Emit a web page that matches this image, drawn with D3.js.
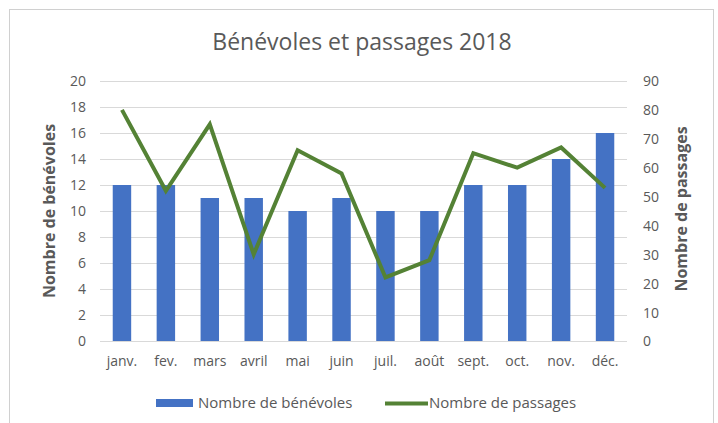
<!DOCTYPE html>
<html>
<head>
<meta charset="utf-8">
<script src="https://cdn.jsdelivr.net/npm/d3@7"></script>
<style>
  body { margin: 0; background: #fff; }
  text { font-family: "Segoe UI", "Open Sans", sans-serif; fill: #595959; }
</style>
</head>
<body>
<div class="chart"></div>
<script>
const months = ["janv.", "fev.", "mars", "avril", "mai", "juin", "juil.", "août", "sept.", "oct.", "nov.", "déc."];
const benevoles = [12, 12, 11, 11, 10, 11, 10, 10, 12, 12, 14, 16];
const passages = [80, 52, 75, 30, 66, 58, 22, 28, 65, 60, 67, 53];
const leftTicks = [0, 2, 4, 6, 8, 10, 12, 14, 16, 18, 20];
const rightTicks = [0, 10, 20, 30, 40, 50, 60, 70, 80, 90];

const width = 718;
const height = 423;
const margin = { top: 81, right: 91, bottom: 82, left: 100 };

const svg = d3.select(".chart")
  .append("svg")
  .attr("width", width)
  .attr("height", height);

// chart frame
svg.append("rect")
  .attr("x", 9.5)
  .attr("y", 9.5)
  .attr("width", 704)
  .attr("height", 430)
  .attr("fill", "#fff")
  .attr("stroke", "#d0d0d0");

// title
svg.append("text")
  .attr("x", 362)
  .attr("y", 50)
  .attr("text-anchor", "middle")
  .style("font-size", "23px")
  .text("Bénévoles et passages 2018");

const xScale = d3.scaleBand()
  .domain(months)
  .range([margin.left, width - margin.right])
  .paddingInner(0.58)
  .paddingOuter(0.29);

const yLeft = d3.scaleLinear()
  .domain([0, 20])
  .range([height - margin.bottom, margin.top]);

const yRight = d3.scaleLinear()
  .domain([0, 90])
  .range([height - margin.bottom, margin.top]);

// gridlines
svg.append("g")
  .selectAll("line")
  .data(leftTicks)
  .join("line")
  .attr("x1", margin.left)
  .attr("x2", width - margin.right)
  .attr("y1", d => Math.round(yLeft(d)) + 0.5)
  .attr("y2", d => Math.round(yLeft(d)) + 0.5)
  .attr("stroke", "#d9d9d9")
  .attr("stroke-width", 1);

// left axis
const leftAxis = svg.append("g")
  .attr("transform", `translate(${margin.left - 14}, 0)`)
  .call(d3.axisLeft(yLeft).tickValues(leftTicks).tickSize(0).tickPadding(0));
leftAxis.select(".domain").remove();
leftAxis.selectAll("text").style("font-size", "14px").attr("dy", "0.35em").attr("fill", "#595959");

// right axis
const rightAxis = svg.append("g")
  .attr("transform", `translate(${width - margin.right + 16}, 0)`)
  .call(d3.axisRight(yRight).tickValues(rightTicks).tickSize(0).tickPadding(0));
rightAxis.select(".domain").remove();
rightAxis.selectAll("text").style("font-size", "14px").attr("dy", "0.35em").attr("fill", "#595959");

// x axis labels
const xAxis = svg.append("g")
  .attr("transform", `translate(0, ${height - margin.bottom + 12})`)
  .call(d3.axisBottom(xScale).tickSize(0).tickPadding(0));
xAxis.select(".domain").remove();
xAxis.selectAll("text").style("font-size", "14px").attr("dy", "0.9em").attr("fill", "#595959");

// axis titles
svg.append("text")
  .attr("transform", `translate(55, ${(yLeft(0) + yLeft(20)) / 2}) rotate(-90)`)
  .attr("text-anchor", "middle")
  .style("font-size", "16px")
  .style("font-weight", "bold")
  .text("Nombre de bénévoles");

svg.append("text")
  .attr("transform", `translate(687, ${(yLeft(0) + yLeft(20)) / 2 - 2}) rotate(-90)`)
  .attr("text-anchor", "middle")
  .style("font-size", "16px")
  .style("font-weight", "bold")
  .text("Nombre de passages");

// bars
svg.append("g")
  .selectAll("rect")
  .data(months)
  .join("rect")
  .attr("x", (d) => xScale(d))
  .attr("y", (d, i) => yLeft(benevoles[i]))
  .attr("width", xScale.bandwidth())
  .attr("height", (d, i) => yLeft(0) - yLeft(benevoles[i]))
  .attr("fill", "#4472c4");

// line
const line = d3.line()
  .x((d, i) => xScale(months[i]) + xScale.bandwidth() / 2)
  .y(d => yRight(d));

svg.append("path")
  .datum(passages)
  .attr("d", line)
  .attr("fill", "none")
  .attr("stroke", "#548235")
  .attr("stroke-width", 4)
  .attr("stroke-linejoin", "miter");

// legend
const legend = svg.append("g");
legend.append("rect")
  .attr("x", 156)
  .attr("y", 399)
  .attr("width", 37)
  .attr("height", 8)
  .attr("fill", "#4472c4");
legend.append("text")
  .attr("x", 198)
  .attr("y", 408)
  .style("font-size", "15px")
  .text("Nombre de bénévoles");
legend.append("line")
  .attr("x1", 385)
  .attr("x2", 428)
  .attr("y1", 403.5)
  .attr("y2", 403.5)
  .attr("stroke", "#548235")
  .attr("stroke-width", 4);
legend.append("text")
  .attr("x", 429)
  .attr("y", 408)
  .style("font-size", "15px")
  .text("Nombre de passages");
</script>
</body>
</html>
